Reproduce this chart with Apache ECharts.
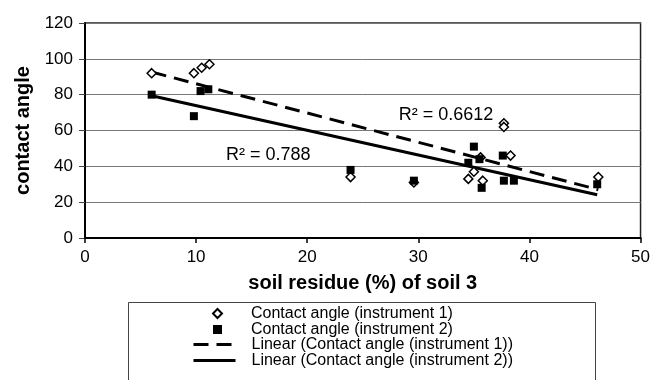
<!DOCTYPE html>
<html>
<head>
<meta charset="UTF-8">
<title>contact angle vs soil residue</title>
<script src="https://cdn.jsdelivr.net/npm/echarts@6/dist/echarts.min.js"></script>
<style>
  html, body { margin: 0; padding: 0; background: #fff; }
  #chart { width: 653px; height: 380px; }
</style>
</head>
<body>
<div id="chart"></div>
<script>
// soil residue (%) of soil 3
var residue1 = [6, 9.8, 10.5, 11.2, 23.9, 29.6, 34.5, 35, 35.6, 35.8, 37.7, 37.7, 38.3, 46.2];
var angle1   = [92, 92, 95, 97, 34, 31, 33, 37, 45, 32, 64, 62, 46, 34];
var residue2 = [6, 9.8, 10.4, 11.1, 23.9, 29.6, 34.5, 35, 35.5, 35.7, 37.6, 37.7, 38.6, 46.1];
var angle2   = [80, 68, 82, 83, 38, 32, 42, 51, 44, 28, 46, 32, 32, 30];

var xTicks = [0, 10, 20, 30, 40, 50];
var yTicks = [0, 20, 40, 60, 80, 100, 120];

var r2Label1 = 'R\u00B2 = 0.6612';
var r2Label2 = 'R\u00B2 = 0.788';

var names = [
  'Contact angle (instrument 1)',
  'Contact angle (instrument 2)',
  'Linear (Contact angle (instrument 1))',
  'Linear (Contact angle (instrument 2))'
];

function pairs(xs, ys) {
  return xs.map(function (x, i) { return [x, ys[i]]; });
}

// least squares fit, drawn over the data range
function fitLine(xs, ys) {
  var n = xs.length, sx = 0, sy = 0;
  for (var i = 0; i < n; i++) { sx += xs[i]; sy += ys[i]; }
  var mx = sx / n, my = sy / n, sxy = 0, sxx = 0;
  for (var j = 0; j < n; j++) {
    sxy += (xs[j] - mx) * (ys[j] - my);
    sxx += (xs[j] - mx) * (xs[j] - mx);
  }
  var b = sxy / sxx, a = my - b * mx;
  var x0 = Math.min.apply(null, xs), x1 = Math.max.apply(null, xs);
  return [[x0, a + b * x0], [x1, a + b * x1]];
}

var font = 'Liberation Sans, Arial, sans-serif';
var legendText = { fontFamily: font, fontSize: 16, color: '#000', lineHeight: 15.5 };
var chart = echarts.init(document.getElementById('chart'));

chart.setOption({
  backgroundColor: '#fff',
  animation: false,
  grid: {
    left: 85, right: 12, top: 23, bottom: 142,
    show: true, borderColor: '#222', borderWidth: 1.5
  },
  xAxis: {
    type: 'value', min: xTicks[0], max: xTicks[xTicks.length - 1], interval: 10,
    name: 'soil residue (%) of soil 3', nameLocation: 'middle', nameGap: 35,
    nameTextStyle: { fontFamily: font, fontSize: 20, fontWeight: 'bold', color: '#000' },
    axisLine: { lineStyle: { color: '#000', width: 2 } },
    axisTick: { show: true, inside: false, length: 5, lineStyle: { color: '#000', width: 1.5 } },
    axisLabel: { fontFamily: font, fontSize: 17, color: '#000', margin: 11 },
    splitLine: { show: false }
  },
  yAxis: {
    type: 'value', min: yTicks[0], max: yTicks[yTicks.length - 1], interval: 20,
    name: 'contact angle', nameLocation: 'middle', nameGap: 52, nameRotate: 90,
    nameTextStyle: { fontFamily: font, fontSize: 20, fontWeight: 'bold', color: '#000' },
    axisLine: { show: true, lineStyle: { color: '#000', width: 2 } },
    axisTick: { show: true, inside: false, length: 6, lineStyle: { color: '#444', width: 1 } },
    axisLabel: { fontFamily: font, fontSize: 17, color: '#000', margin: 12 },
    splitLine: { show: true, lineStyle: { color: '#777', width: 1 } }
  },
  // legend frame, runs past the bottom edge like the source
  graphic: [{
    type: 'rect', left: 128, top: 302, z: 0,
    shape: { width: 467, height: 120 },
    style: { fill: '#fff', stroke: '#444', lineWidth: 1 }
  }],
  legend: [
    {
      orient: 'vertical', left: 212, top: 305.5, padding: 0,
      itemWidth: 9, itemHeight: 9, itemGap: 0,
      textStyle: Object.assign({ padding: [0, 0, 0, 24] }, legendText),
      data: [names[0], names[1]]
    },
    {
      orient: 'vertical', left: 192, top: 336.5, padding: 0,
      itemWidth: 42, itemHeight: 10, itemGap: 0,
      itemStyle: { opacity: 0 },
      lineStyle: { width: 3 },
      textStyle: Object.assign({ padding: [0, 0, 0, 11] }, legendText),
      data: [names[2], names[3]]
    }
  ],
  series: [
    {
      name: names[2], type: 'line', data: fitLine(residue1, angle1),
      symbol: 'none', z: 2,
      lineStyle: { color: '#000', width: 3, type: [15, 8] },
      itemStyle: { color: '#000' },
      markPoint: {
        symbol: 'circle', symbolSize: 0,
        label: { show: true, position: 'inside', formatter: r2Label1, fontFamily: font, fontSize: 18, color: '#000' },
        data: [{ coord: [32.5, 68.8] }]
      }
    },
    {
      name: names[3], type: 'line', data: fitLine(residue2, angle2),
      symbol: 'none', z: 2,
      lineStyle: { color: '#000', width: 3 },
      itemStyle: { color: '#000' },
      markPoint: {
        symbol: 'circle', symbolSize: 0,
        label: { show: true, position: 'inside', formatter: r2Label2, fontFamily: font, fontSize: 18, color: '#000' },
        data: [{ coord: [16.5, 46.4] }]
      }
    },
    {
      name: names[0], type: 'scatter', data: pairs(residue1, angle1),
      symbol: 'diamond', symbolSize: 9, z: 3,
      itemStyle: { color: '#fff', borderColor: '#000', borderWidth: 1.5, opacity: 1 }
    },
    {
      name: names[1], type: 'scatter', data: pairs(residue2, angle2),
      symbol: 'rect', symbolSize: 8, z: 4,
      itemStyle: { color: '#000', opacity: 1 }
    }
  ]
});
</script>
</body>
</html>
